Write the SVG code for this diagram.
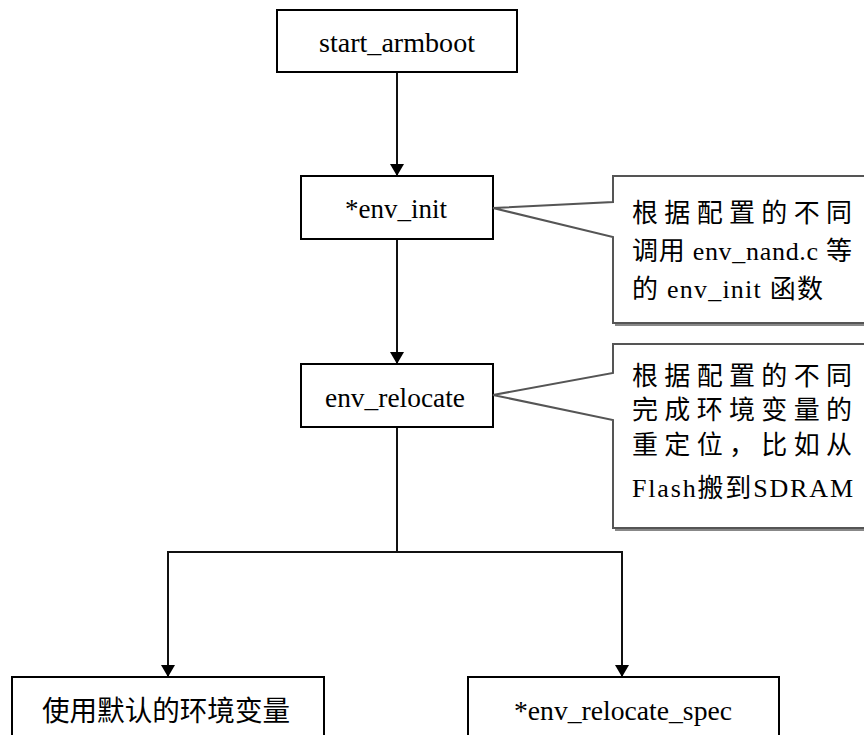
<svg xmlns="http://www.w3.org/2000/svg" width="864" height="735" viewBox="0 0 864 735">
<style>
.box{fill:#fff;stroke:#000;stroke-width:2}
.lat{font-family:"Liberation Serif","Times New Roman",serif;font-size:28px;fill:#000}
.cjk{font-family:"Liberation Serif","Noto Sans CJK SC",serif;font-size:26px;fill:#000}
.cjkb{font-family:"Noto Sans CJK SC",sans-serif;font-size:28px;fill:#000}
.conn{fill:none;stroke:#111;stroke-width:2}
.call{fill:#fff;stroke:#555;stroke-width:2}
.shadow{fill:none;stroke:#888;stroke-width:2}
</style>
<defs>
<marker id="arr" markerWidth="12" markerHeight="14" refX="12" refY="7" orient="auto" markerUnits="userSpaceOnUse">
<path d="M0,0 L12,7 L0,14 Z" fill="#000"/>
</marker>
</defs>
<rect width="864" height="735" fill="#fff"/>
<g id="connectors">
<line class="conn" x1="397" y1="72" x2="397" y2="176" marker-end="url(#arr)"/>
<line class="conn" x1="397" y1="239" x2="397" y2="364" marker-end="url(#arr)"/>
<line class="conn" x1="397" y1="427" x2="397" y2="552"/>
<line class="conn" x1="167" y1="552" x2="623" y2="552"/>
<line class="conn" x1="168" y1="552" x2="168" y2="677" marker-end="url(#arr)"/>
<line class="conn" x1="622" y1="552" x2="622" y2="677" marker-end="url(#arr)"/>
</g>
<g id="start_armboot">
<rect class="box" x="277" y="10" width="240" height="62"/>
<text class="lat" x="319" y="52" textLength="156" lengthAdjust="spacingAndGlyphs">start_armboot</text>
</g>
<g id="env_init">
<rect class="box" x="301" y="176" width="192" height="63"/>
<text class="lat" x="345" y="218" textLength="102" lengthAdjust="spacingAndGlyphs">*env_init</text>
</g>
<g id="env_relocate">
<rect class="box" x="301" y="364" width="192" height="63"/>
<text class="lat" x="325" y="407" textLength="140" lengthAdjust="spacingAndGlyphs">env_relocate</text>
</g>
<g id="default_env">
<rect class="box" x="12" y="677" width="312" height="90"/>
<text class="cjkb" x="42" y="721" textLength="248" lengthAdjust="spacingAndGlyphs">使用默认的环境变量</text>
</g>
<g id="env_relocate_spec">
<rect class="box" x="468" y="677" width="311" height="90"/>
<text class="lat" x="514" y="720" textLength="218" lengthAdjust="spacingAndGlyphs">*env_relocate_spec</text>
</g>
<g id="note1">
<path class="shadow" d="M872,179 V325 H615"/>
<path class="call" d="M613,176 H872 V323 H613 V237 L493,208 L613,202 Z"/>
<text class="cjk" x="632" y="222" textLength="220" lengthAdjust="spacing">根据配置的不同</text>
<text class="cjk" x="632" y="260" textLength="220" lengthAdjust="spacing">调用 env_nand.c 等</text>
<text class="cjk" x="632" y="298" textLength="191" lengthAdjust="spacing">的 env_init 函数</text>
</g>
<g id="note2">
<path class="shadow" d="M872,347 V530 H615"/>
<path class="call" d="M613,344 H872 V528 H613 V420 L493,395 L613,373 Z"/>
<text class="cjk" x="632" y="385" textLength="220" lengthAdjust="spacing">根据配置的不同</text>
<text class="cjk" x="632" y="419" textLength="220" lengthAdjust="spacing">完成环境变量的</text>
<text class="cjk" x="632" y="454" textLength="220" lengthAdjust="spacing">重定位，比如从</text>
<text class="cjk" x="632" y="497" textLength="221" lengthAdjust="spacing">Flash搬到SDRAM</text>
</g>
</svg>
